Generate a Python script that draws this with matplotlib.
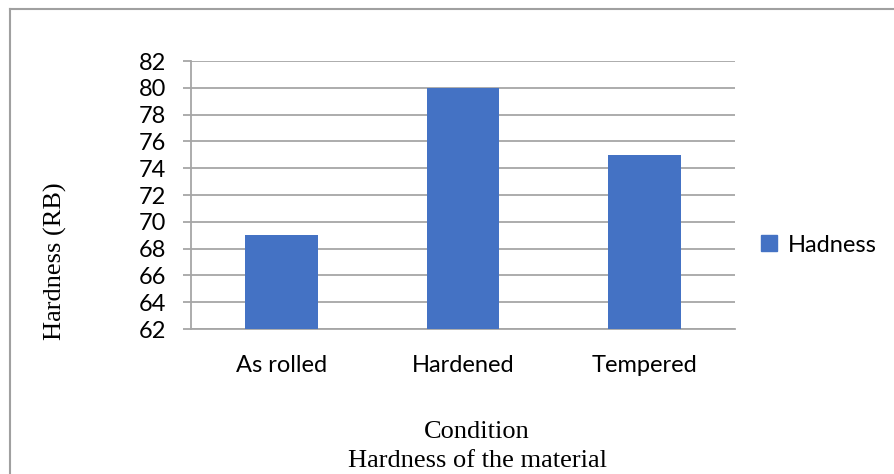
import numpy as np
import matplotlib.pyplot as plt
from matplotlib.lines import Line2D

conditions = ['As rolled', 'Hardened', 'Tempered']
hardness = [69, 80, 75]
yticks = list(range(62, 83, 2))

W, H = 895, 474
fig = plt.figure(figsize=(W / 100, H / 100), dpi=100)
ax = fig.add_axes([191 / W, 1 - 329 / H, (735 - 191) / W, (329 - 61) / H])

x = np.arange(len(conditions))
ax.bar(x, hardness, width=0.4, color='#4472C4', zorder=3, label='Hadness')
ax.set_xlim(-0.5, len(conditions) - 0.5)
ax.set_ylim(62, 82)
ax.set_yticks(yticks)
ax.set_xticks(x)
ax.set_xticklabels(conditions)
ax.grid(axis='y', color='#a6a6a6', linewidth=1.3, zorder=0)

for s in ['top', 'right']:
    ax.spines[s].set_visible(False)
for s in ['left', 'bottom']:
    ax.spines[s].set_color('#a6a6a6')
    ax.spines[s].set_linewidth(1.3)

tick_font = ['Lato', 'DejaVu Sans']
ax.tick_params(axis='y', length=6, width=1.3, color='#a6a6a6', pad=12,
               labelsize=17)
ax.tick_params(axis='x', length=0, pad=19, labelsize=17)
for lab in ax.get_xticklabels() + ax.get_yticklabels():
    lab.set_family(tick_font)
    lab.set_color('black')

serif = ['Liberation Serif', 'DejaVu Serif']
fig.text(55 / W, 1 - 261 / H, 'Hardness (RB)', rotation=90, ha='center',
         va='center', fontsize=19, family=serif)
fig.text(477 / W, 1 - 432 / H, 'Condition', ha='center', va='center',
         fontsize=19, family=serif)
fig.text(477 / W, 1 - 461 / H, 'Hardness of the material', ha='center',
         va='center', fontsize=19, family=serif)

leg = fig.legend(handles=[Line2D([], [], marker='s', linestyle='none',
                                 markersize=11, color='#4472C4')],
                 labels=['Hadness'], loc='center left',
                 bbox_to_anchor=(738 / W, 1 - 245 / H), frameon=False,
                 handlelength=1.2, handletextpad=0.2, borderpad=0.2,
                 prop={'family': tick_font, 'size': 17})

# outer chart border (left and top only visible)
fig.add_artist(Line2D([10 / W, 10 / W], [0, 1 - 9 / H], color='#a0a0a0',
                      linewidth=1.5, transform=fig.transFigure))
fig.add_artist(Line2D([10 / W, 1], [1 - 9 / H, 1 - 9 / H], color='#a0a0a0',
                      linewidth=1.5, transform=fig.transFigure))

fig.savefig('out.png', dpi=100)
